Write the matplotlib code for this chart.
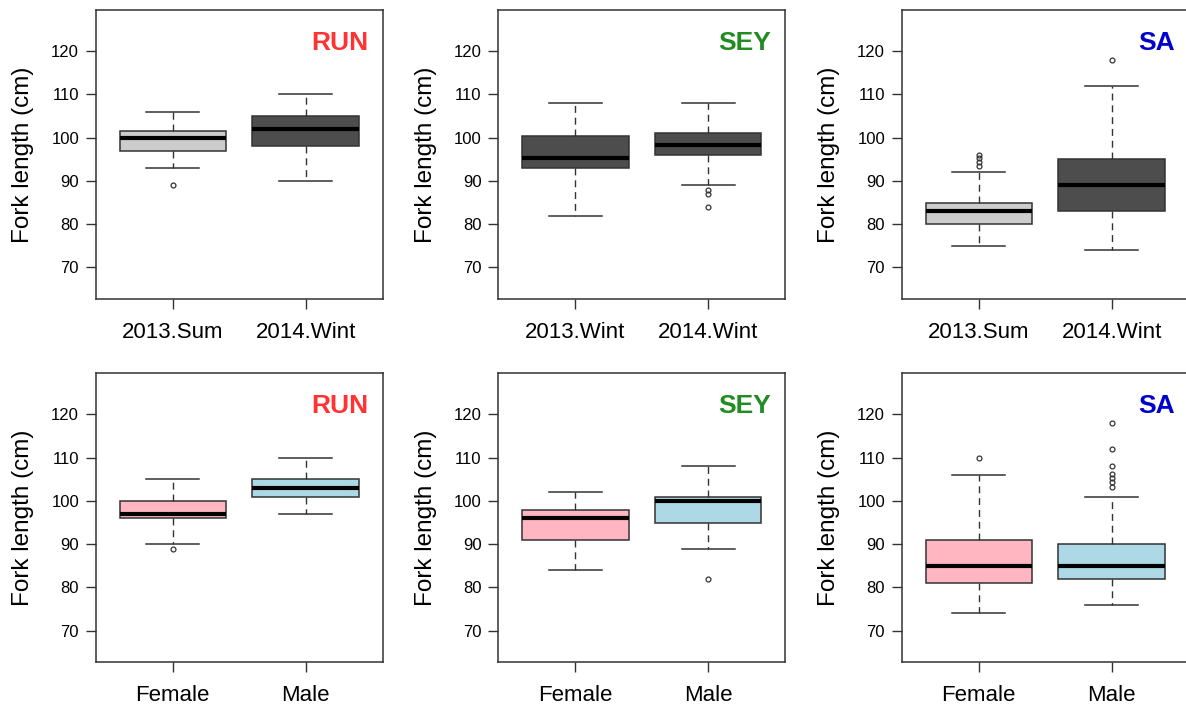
import matplotlib
matplotlib.use("Agg")
import matplotlib.pyplot as plt

plt.rcParams['font.family'] = ['Liberation Sans', 'DejaVu Sans']

# --- data (cm) ---
season_labels = [["2013.Sum", "2014.Wint"], ["2013.Wint", "2014.Wint"], ["2013.Sum", "2014.Wint"]]
sex_labels = ["Female", "Male"]
regions = ["RUN", "SEY", "SA"]
region_colors = ["#ff3333", "#228b22", "#0000cd"]

# each box: (whislo, q1, med, q3, whishi)
season_boxes = [
    [(93, 97, 100, 101.5, 106), (90, 98, 102, 105, 110)],
    [(82, 93, 95.4, 100.4, 108), (89, 96, 98.4, 101, 108)],
    [(75, 80, 83, 85, 92), (74, 83, 89, 95, 112)],
]
season_fliers = [
    [[89], []],
    [[], [88, 87, 84]],
    [[93.4, 94.3, 95.2, 96.1], [118]],
]
season_fill = [
    ["#cccccc", "#4d4d4d"],
    ["#4d4d4d", "#4d4d4d"],
    ["#cccccc", "#4d4d4d"],
]

sex_boxes = [
    [(90, 96, 97, 100, 105), (97, 101, 103, 105, 110)],
    [(84, 91, 96, 98, 102), (89, 95, 100, 101, 108)],
    [(74, 81, 85, 91, 106), (76, 82, 85, 90, 101)],
]
sex_fliers = [
    [[89], []],
    [[], [82]],
    [[110], [118, 112, 108, 106.3, 105.3, 104.3, 103.2]],
]
sex_fill = ["#ffb6c1", "#add8e6"]

W, H = 1186, 706
fig = plt.figure(figsize=(W / 100, H / 100), dpi=100)

lefts = [95.7, 498.3, 901.7]
tops = [10, 373.3]
pw, ph = 287, 289


def panel(ax, boxes, fliers, fills, labels, region, rcol):
    stats = []
    for (lo, q1, med, q3, hi), fl in zip(boxes, fliers):
        stats.append(dict(whislo=lo, q1=q1, med=med, q3=q3, whishi=hi, fliers=fl))
    bp = ax.bxp(stats, positions=[1, 2], widths=0.8, capwidths=0.4,
                patch_artist=True, manage_ticks=False,
                boxprops=dict(edgecolor='#333333', linewidth=1.1),
                medianprops=dict(color='black', linewidth=3, solid_capstyle='butt'),
                whiskerprops=dict(color='#333333', linewidth=1, linestyle=(0, (5, 3.5))),
                capprops=dict(color='#333333', linewidth=1.1),
                flierprops=dict(marker='o', markersize=3.5, markerfacecolor='none',
                                markeredgecolor='#333333', markeredgewidth=0.9))
    for patch, c in zip(bp['boxes'], fills):
        patch.set_facecolor(c)
    ax.set_xlim(0.42, 2.58)
    ax.set_ylim(62.7, 129.5)
    ax.set_yticks([70, 80, 90, 100, 110, 120])
    ax.set_xticks([1, 2])
    ax.set_xticklabels(labels, fontsize=16)
    ax.tick_params(axis='y', labelsize=12, length=7, width=1, color='#333333', pad=5)
    ax.tick_params(axis='x', length=7, width=1, color='#333333', pad=9.5)
    for s in ax.spines.values():
        s.set_color('#333333')
        s.set_linewidth(1.1)
    ax.set_ylabel("Fork length (cm)", fontsize=17.5, labelpad=12)
    ax.text(0.95, 0.886, region, transform=ax.transAxes, ha='right', va='center',
            fontsize=19, fontweight='bold', color=rcol)


for i in range(3):
    ax = fig.add_axes([lefts[i] / W, 1 - (tops[0] + ph) / H, pw / W, ph / H])
    panel(ax, season_boxes[i], season_fliers[i], season_fill[i], season_labels[i],
          regions[i], region_colors[i])
    ax = fig.add_axes([lefts[i] / W, 1 - (tops[1] + ph) / H, pw / W, ph / H])
    panel(ax, sex_boxes[i], sex_fliers[i], sex_fill, sex_labels,
          regions[i], region_colors[i])

fig.savefig("out.png", dpi=100)
